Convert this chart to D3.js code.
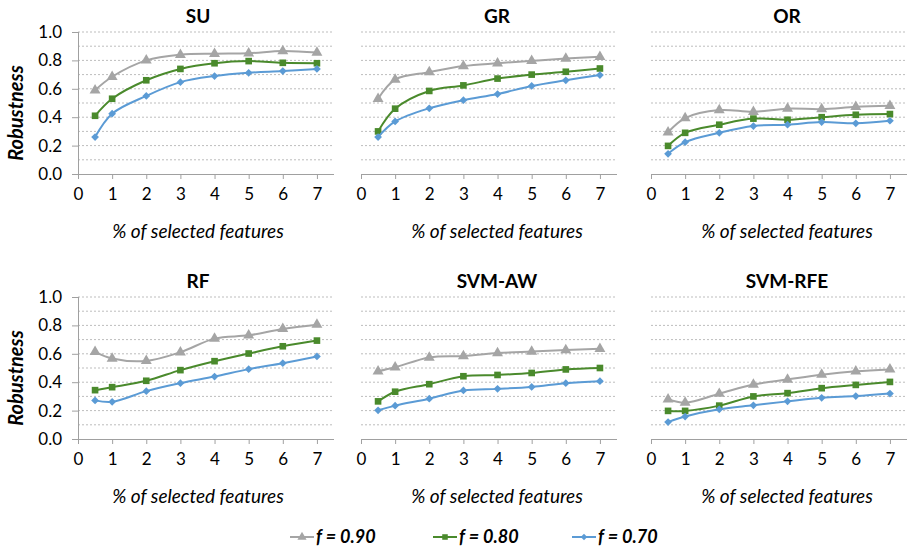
<!DOCTYPE html>
<html>
<head>
<meta charset="utf-8">
<script src="https://cdn.jsdelivr.net/npm/d3@7"></script>
<style>
  body { margin: 0; background: #fff; }
  svg text { font-family: Lato, "Open Sans", sans-serif; fill: #000; }
</style>
</head>
<body>
<div id="chart"></div>
<script>
// Données
const xValues = [0.5, 1, 2, 3, 4, 5, 6, 7];
const xTicks = [0, 1, 2, 3, 4, 5, 6, 7];
const yTicks = [0, 0.2, 0.4, 0.6, 0.8, 1.0];
const yGrid = [0.1, 0.2, 0.3, 0.4, 0.5, 0.6, 0.7, 0.8, 0.9, 1.0];

const methods = ["SU", "GR", "OR", "RF", "SVM-AW", "SVM-RFE"];
const seriesLabels = ["f = 0.90", "f = 0.80", "f = 0.70"];

const su90 = [0.59, 0.685, 0.80, 0.84, 0.847, 0.85, 0.866, 0.855];
const su80 = [0.41, 0.53, 0.66, 0.74, 0.78, 0.795, 0.783, 0.78];
const su70 = [0.26, 0.425, 0.55, 0.647, 0.69, 0.713, 0.725, 0.74];

const gr90 = [0.53, 0.665, 0.717, 0.76, 0.78, 0.797, 0.813, 0.825];
const gr80 = [0.30, 0.46, 0.585, 0.624, 0.672, 0.70, 0.72, 0.743];
const gr70 = [0.26, 0.37, 0.463, 0.52, 0.563, 0.62, 0.66, 0.697];

const or90 = [0.294, 0.394, 0.45, 0.438, 0.46, 0.457, 0.473, 0.48];
const or80 = [0.198, 0.29, 0.347, 0.39, 0.382, 0.40, 0.417, 0.422];
const or70 = [0.142, 0.224, 0.29, 0.338, 0.347, 0.366, 0.357, 0.375];

const rf90 = [0.614, 0.567, 0.55, 0.611, 0.707, 0.73, 0.775, 0.805];
const rf80 = [0.344, 0.365, 0.41, 0.485, 0.548, 0.602, 0.653, 0.693];
const rf70 = [0.272, 0.262, 0.337, 0.393, 0.44, 0.492, 0.534, 0.581];

const aw90 = [0.477, 0.505, 0.574, 0.584, 0.605, 0.616, 0.626, 0.635];
const aw80 = [0.265, 0.333, 0.386, 0.442, 0.451, 0.465, 0.49, 0.50];
const aw70 = [0.202, 0.235, 0.284, 0.342, 0.353, 0.367, 0.393, 0.407];

const rfe90 = [0.28, 0.256, 0.319, 0.384, 0.419, 0.453, 0.477, 0.49];
const rfe80 = [0.198, 0.198, 0.235, 0.30, 0.323, 0.358, 0.381, 0.402];
const rfe70 = [0.119, 0.158, 0.209, 0.237, 0.265, 0.29, 0.302, 0.32];

const panelValues = [
    [su90, su80, su70],
    [gr90, gr80, gr70],
    [or90, or80, or70],
    [rf90, rf80, rf70],
    [aw90, aw80, aw70],
    [rfe90, rfe80, rfe70]
];

// Style des séries
const colors = ["#A5A5A5", "#4A8A2C", "#5B9BD5"];
const symbols = [d3.symbolTriangle, d3.symbolSquare, d3.symbolSquare];
const symbolSizes = [52, 44, 30];
const symbolRot = [0, 0, 45];

// Canevas
const W = 909;
const H = 550;
const colX = [78, 361, 651];
const rowY = [32, 297];
const pw = 256;
const ph = 142;
const titleShift = [-8, 8, 8];

const svg = d3.select("#chart")
    .append("svg")
    .attr("width", W)
    .attr("height", H);

const scaleX = d3.scaleLinear().domain([0, 7.5]).range([0, pw]);
const scaleY = d3.scaleLinear().domain([0, 1]).range([ph, 0]);

const line = d3.line()
    .curve(d3.curveCatmullRom)
    .x(d => scaleX(d.x))
    .y(d => scaleY(d.y));

methods.forEach((m, i) => {
    const col = i % 3;
    const row = Math.floor(i / 3);

    const g = svg.append("g")
        .attr("transform", `translate(${colX[col]}, ${rowY[row]})`);

    // Quadrillage pointillé
    g.selectAll(".grid")
        .data(yGrid)
        .join("line")
        .attr("x1", 0)
        .attr("x2", pw)
        .attr("y1", d => scaleY(d))
        .attr("y2", d => scaleY(d))
        .attr("stroke", "#BDBDBD")
        .attr("stroke-width", 1)
        .attr("stroke-dasharray", "2,2");

    // Axe X
    const xAxis = g.append("g")
        .attr("transform", `translate(0, ${ph})`)
        .call(d3.axisBottom(scaleX)
            .tickValues(xTicks)
            .tickFormat(d3.format("d"))
            .tickSize(5)
            .tickPadding(9));
    xAxis.select(".domain")
        .attr("stroke", "#A0A0A0")
        .attr("d", `M0,0.5H${pw}`);
    xAxis.selectAll(".tick line").attr("stroke", "#A0A0A0");
    xAxis.selectAll(".tick text")
        .attr("font-size", "17px")
        .attr("fill", "#000");

    // Axe Y (première colonne seulement)
    if (col === 0) {
        const yAxis = g.append("g")
            .call(d3.axisLeft(scaleY)
                .tickValues(yTicks)
                .tickFormat(d3.format(".1f"))
                .tickSize(6)
                .tickPadding(10));
        yAxis.select(".domain")
            .attr("stroke", "#A0A0A0")
            .attr("d", `M0.5,0V${ph}`);
        yAxis.selectAll(".tick line").attr("stroke", "#A0A0A0");
        yAxis.selectAll(".tick text")
            .attr("font-size", "17px")
            .attr("fill", "#000");

        g.append("text")
            .attr("transform", `translate(${-55}, ${ph / 2 + 10}) rotate(-90)`)
            .attr("text-anchor", "middle")
            .attr("font-size", "20px")
            .attr("font-weight", "bold")
            .attr("font-style", "italic")
            .text("Robustness");
    }

    // Titre du panneau
    g.append("text")
        .attr("x", pw / 2 + titleShift[col])
        .attr("y", -9)
        .attr("text-anchor", "middle")
        .attr("font-size", "19px")
        .attr("font-weight", "bold")
        .text(m);

    // Titre de l'axe X
    g.append("text")
        .attr("x", pw / 2 + titleShift[col])
        .attr("y", ph + 64)
        .attr("text-anchor", "middle")
        .attr("font-size", "19px")
        .attr("font-style", "italic")
        .text("% of selected features");

    // Courbes et marqueurs
    panelValues[i].forEach((vals, s) => {
        const pts = xValues.map((x, k) => ({ x: x, y: vals[k] }));

        g.append("path")
            .datum(pts)
            .attr("fill", "none")
            .attr("stroke", colors[s])
            .attr("stroke-width", 2)
            .attr("d", line);

        g.selectAll(".mk" + s)
            .data(pts)
            .join("path")
            .attr("class", "mk" + s)
            .attr("transform", d => `translate(${scaleX(d.x)}, ${scaleY(d.y)}) rotate(${symbolRot[s]})`)
            .attr("d", d3.symbol().type(symbols[s]).size(symbolSizes[s]))
            .attr("fill", colors[s]);
    });
});

// Légende
const legendX = [290, 433, 572];
const legendY = 537;

const legend = svg.selectAll(".legend")
    .data(seriesLabels)
    .join("g")
    .attr("class", "legend")
    .attr("transform", (d, i) => `translate(${legendX[i]}, ${legendY})`);

legend.append("line")
    .attr("x1", 0)
    .attr("x2", 24)
    .attr("stroke", (d, i) => colors[i])
    .attr("stroke-width", 2);

legend.append("path")
    .attr("transform", (d, i) => `translate(12, 0) rotate(${symbolRot[i]})`)
    .attr("d", (d, i) => d3.symbol().type(symbols[i]).size(symbolSizes[i] * 0.7)())
    .attr("fill", (d, i) => colors[i]);

legend.append("text")
    .attr("x", 26)
    .attr("y", 6)
    .attr("font-size", "18px")
    .attr("font-weight", "bold")
    .attr("font-style", "italic")
    .text(d => d);
</script>
</body>
</html>
